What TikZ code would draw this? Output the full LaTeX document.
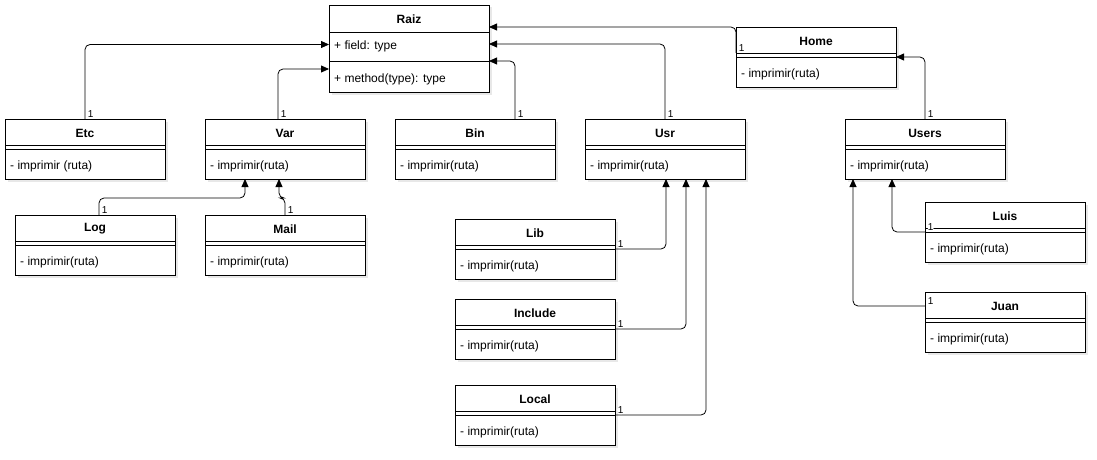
\documentclass[tikz,border=0pt]{standalone}
\usepackage{fontspec}
\setmainfont{Liberation Sans}
\usepackage{tikz}
\usetikzlibrary{calc,arrows.meta,shadows}

\tikzset{
  classbox/.style={draw, line width=0.8pt, fill=white, inner sep=0pt, outer sep=0pt,
    minimum width=160pt, minimum height=60pt,
    drop shadow={shadow xshift=2.5pt, shadow yshift=-2.5pt, fill=black!18}},
  classtitle/.style={font=\fontsize{12pt}{14pt}\selectfont\bfseries, inner sep=0pt},
  classop/.style={font=\fontsize{12pt}{14pt}\selectfont, anchor=west, inner sep=0pt, xshift=5pt},
  assoc/.style={draw, line width=0.8pt, rounded corners=5pt, -{Triangle[length=8pt,width=7pt]}},
  mult/.style={font=\fontsize{10pt}{10pt}\selectfont, fill=white, inner sep=1pt, anchor=south west, xshift=1.5pt, yshift=0.5pt}
}

\begin{document}
\begin{tikzpicture}[x=1pt,y=-1pt]
    \useasboundingbox (0,0) rectangle (1097,460);
    % root class
    \node[classbox, minimum height=87pt, anchor=north west] (raiz) at (329,5) {};
    \node[classtitle] (raiz-t) at ([yshift=-14pt]raiz.north) {Raiz};
    \draw[line width=0.8pt] ([yshift=-27pt]raiz.north west) -- ([yshift=-27pt]raiz.north east);
    \draw[line width=0.8pt] ([yshift=-56pt]raiz.north west) -- ([yshift=-56pt]raiz.north east);
    \node[classop] (raiz-f) at ([yshift=-41pt]raiz.north west) {+ field: type};
    \node[classop] (raiz-m) at ([yshift=-74pt]raiz.north west) {+ method(type): type};
    % directory classes
    \foreach \n/\x/\y/\t/\m in {home/736/27/Home/{- imprimir(ruta)},
        etc/5/119/Etc/{- imprimir (ruta)}, var/205/119/Var/{- imprimir(ruta)},
        bin/395/119/Bin/{- imprimir(ruta)}, usr/585/119/Usr/{- imprimir(ruta)},
        users/845/119/Users/{- imprimir(ruta)}, log/15/215/Log/{- imprimir(ruta)},
        mail/205/215/Mail/{- imprimir(ruta)}, lib/455/219/Lib/{- imprimir(ruta)},
        include/455/299/Include/{- imprimir(ruta)}, local/455/385/Local/{- imprimir(ruta)},
        luis/925/202/Luis/{- imprimir(ruta)}, juan/925/292/Juan/{- imprimir(ruta)}}{
      \node[classbox, anchor=north west] (\n) at (\x,\y) {};
      \node[classtitle] (\n-t) at ([yshift=-14pt]\n.north) {\t};
      \draw[line width=0.8pt] ([yshift=-26pt]\n.north west) -- ([yshift=-26pt]\n.north east);
      \draw[line width=0.8pt] ([yshift=-30pt]\n.north west) -- ([yshift=-30pt]\n.north east);
      \node[classop] (\n-m) at ([yshift=-47pt]\n.north west) {\m};
    }
    % associations to Raiz
    \draw[assoc] (etc.north) node[mult]{1} |- ([yshift=4pt]raiz.west);
    \draw[assoc] ([xshift=-7pt]var.north) node[mult]{1} |- ([yshift=-20.5pt]raiz.west);
    \draw[assoc] ([xshift=40pt]bin.north) node[mult]{1} |- ([yshift=-12.5pt]raiz.east);
    \draw[assoc] (usr.north) node[mult]{1} |- ([yshift=4.5pt]raiz.east);
    \draw[assoc] ([yshift=4pt]home.west) node[mult]{1} |- ([yshift=21.5pt]raiz.east);
    % associations to Var
    \draw[assoc] ([xshift=4pt]log.north) node[mult]{1} -- ++(0,-17) -| ([xshift=-40pt]var.south);
    \draw[assoc] (mail.north) node[mult]{1} -- ++(0,-17) -| ([xshift=-6pt]var.south);
    % associations to Usr
    \draw[assoc] (lib.east) node[mult]{1} -| ([xshift=1pt]usr.south);
    \draw[assoc] (include.east) node[mult]{1} -| ([xshift=21pt]usr.south);
    \draw[assoc] (local.east) node[mult]{1} -| ([xshift=41pt]usr.south);
    % associations to Home and Users
    \draw[assoc] (users.north) node[mult]{1} |- (home.east);
    \draw[assoc] (luis.west) node[mult]{1} -| ([xshift=-33pt]users.south);
    \draw[assoc] ([yshift=16pt]juan.west) node[mult]{1} -| ([xshift=-72pt]users.south);
\end{tikzpicture}
\end{document}
